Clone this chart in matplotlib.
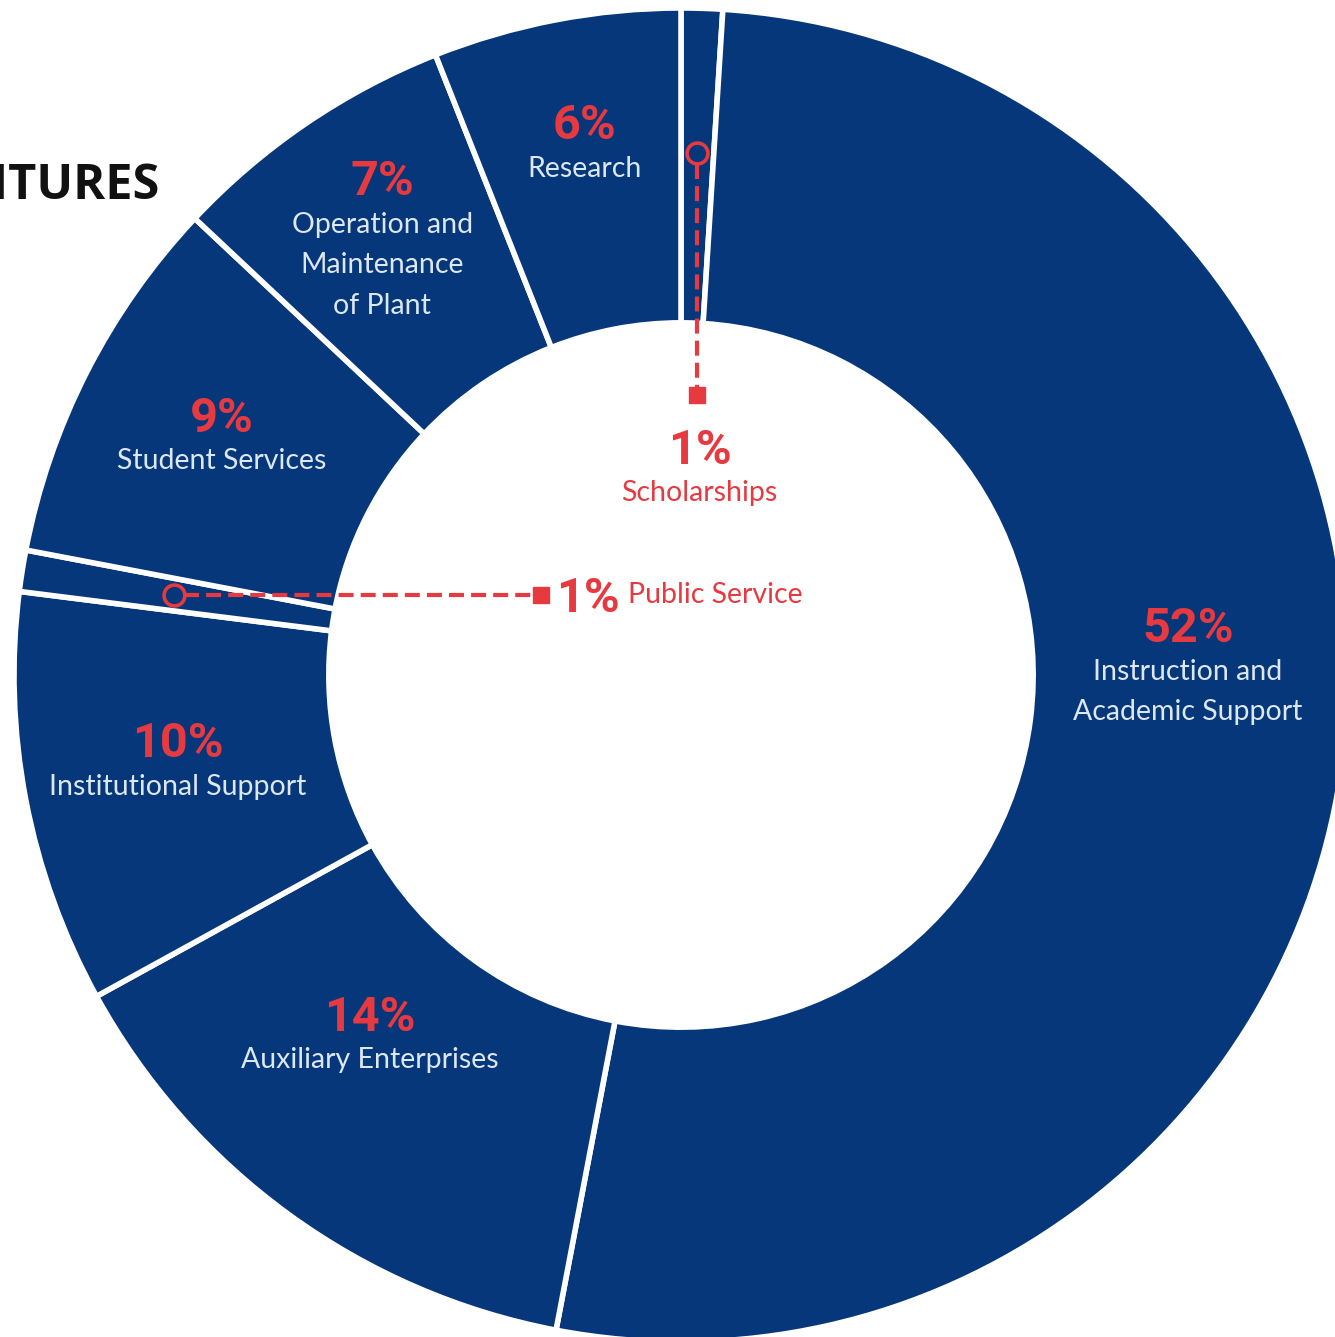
import numpy as np
import matplotlib
matplotlib.use("Agg")
import matplotlib.pyplot as plt

# expenditure shares, clockwise from 12 o'clock
categories = ["Scholarships", "Instruction and\nAcademic Support", "Auxiliary Enterprises",
              "Institutional Support", "Public Service", "Student Services",
              "Operation and\nMaintenance\nof Plant", "Research"]
shares = [1, 52, 14, 10, 1, 9, 7, 6]

NAVY = "#05377A"
RED = "#E63A40"
LIGHT = "#DDE7F1"

fig = plt.figure(figsize=(13.35, 13.37), dpi=100)
# axes box: 1334 px square, centred on the donut hole
ax = fig.add_axes([14 / 1335, -5 / 1337, 1334 / 1335, 1334 / 1337])

wedges, _ = ax.pie(shares, startangle=90, counterclock=False, radius=1.0,
                   colors=[NAVY] * len(shares),
                   wedgeprops=dict(width=0.472, edgecolor="white", linewidth=4))
ax.set_xlim(-1, 1)
ax.set_ylim(-1, 1)
ax.axis("off")

pct_font = dict(family="Roboto", weight="bold", fontsize=35, color=RED)
name_font = dict(family="Lato", weight="normal", fontsize=20.5, linespacing=1.68)

# where each percentage sits (centre of the figure), inside the ring or the hole
label_pos = {0: (0.028, 0.343), 1: (0.760, 0.075), 2: (-0.466, -0.507),
             3: (-0.754, -0.097), 5: (-0.688, 0.391), 6: (-0.448, 0.745),
             7: (-0.144, 0.829)}
for i, (x, y) in label_pos.items():
    col = RED if i == 0 else LIGHT
    ax.text(x, y - 0.026, f"{shares[i]}%", ha="center", va="baseline", **pct_font)
    ax.text(x, y - 0.051, categories[i], ha="center", va="top", color=col, **name_font)

def mid_point(w, r):
    t = np.deg2rad((w.theta1 + w.theta2) / 2)
    return r * np.cos(t), r * np.sin(t)

dash = (0, (3.6, 1.7))

# scholarships call-out, dropping into the hole
cx, cy = mid_point(wedges[0], 0.783)
ax.plot([cx, cx], [cy - 0.016, 0.42], ls=dash, lw=3, color=RED, zorder=4)
ax.plot(cx, cy, "o", ms=15, mfc="none", mec=RED, mew=2.6, zorder=5)
ax.plot(cx, 0.42, "s", ms=11, color=RED, zorder=5)

# public service call-out, running sideways
px, py = mid_point(wedges[4], 0.77)
ax.plot([px + 0.016, -0.21], [py, py], ls=dash, lw=3, color=RED, zorder=4)
ax.plot(px, py, "o", ms=15, mfc="none", mec=RED, mew=2.6, zorder=5)
ax.plot(-0.21, py, "s", ms=11, color=RED, zorder=5)
ax.text(-0.187, py - 0.026, f"{shares[4]}%", ha="left", va="baseline", **pct_font)
ax.text(-0.080, py, categories[4], ha="left", va="center", family="Lato",
        fontsize=20.5, color=RED)

ax.text(-0.781, 0.732, "EXPENDITURES", ha="right", va="center", family="Open Sans",
        weight="bold", fontsize=35, color="#111111", clip_on=False)

fig.savefig("out.png", dpi=100)
